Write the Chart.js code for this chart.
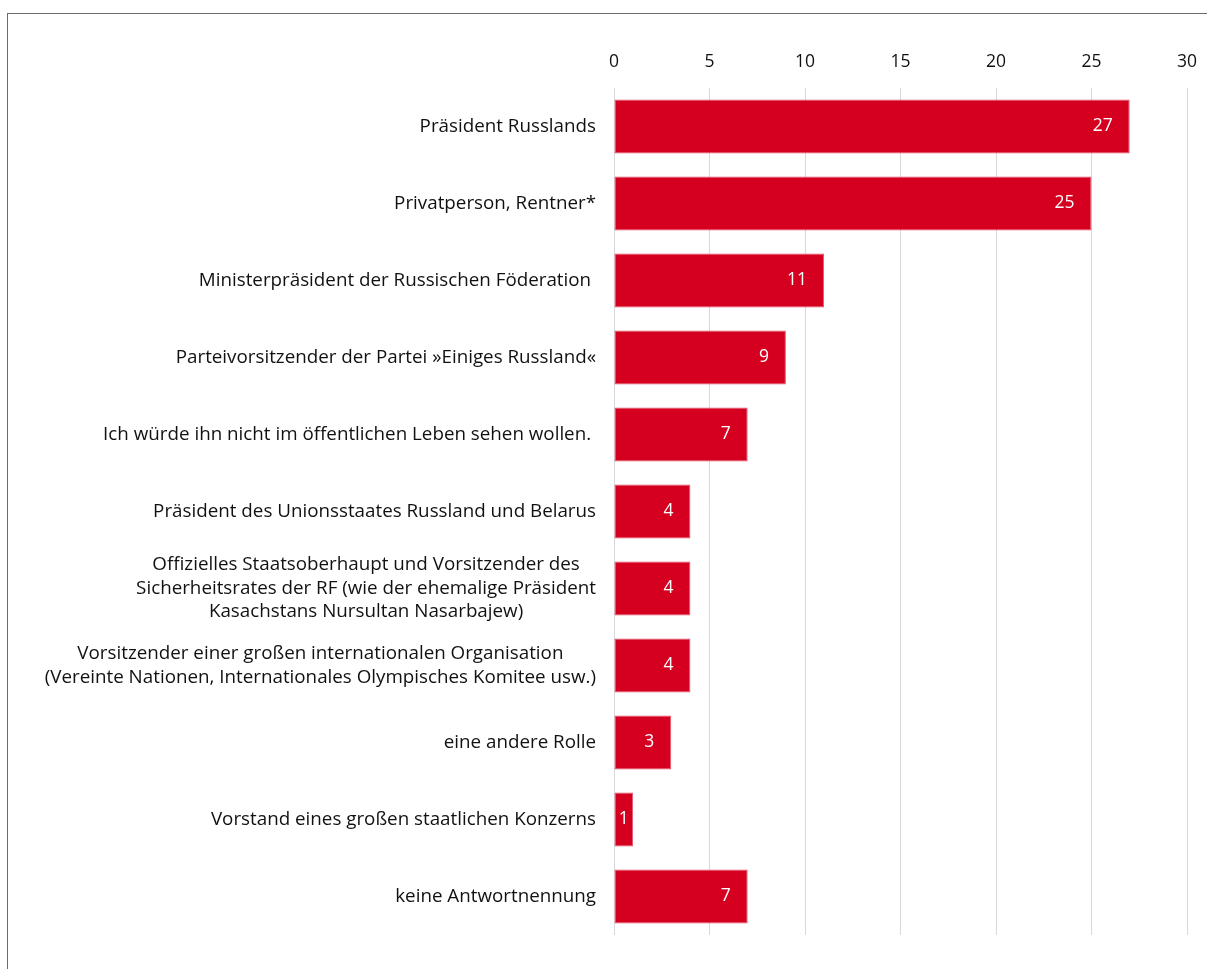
<!DOCTYPE html>
<html>
<head>
<meta charset="utf-8">
<script src="https://cdn.jsdelivr.net/npm/chart.js@4/dist/chart.umd.min.js"></script>
<style>
  html, body { margin: 0; padding: 0; background: #fff; overflow: hidden; }
  #wrap { position: relative; width: 1207px; height: 969px; }
  #frame { position: absolute; left: 7px; top: 13px; width: 1300px; height: 1100px; border: 1px solid #6b6b6b; box-sizing: border-box; }
  canvas { position: absolute; left: 0; top: 0; }
</style>
</head>
<body>
<div id="wrap">
  <div id="frame"></div>
  <canvas id="chart" width="1207" height="969"></canvas>
</div>
<script>
// categories (multi-line ones as arrays)
const categories = [
    'Präsident Russlands',
    'Privatperson, Rentner*',
    'Ministerpräsident der Russischen Föderation ',
    'Parteivorsitzender der Partei »Einiges Russland«',
    'Ich würde ihn nicht im öffentlichen Leben sehen wollen. ',
    'Präsident des Unionsstaates Russland und Belarus',
    ['Offizielles Staatsoberhaupt und Vorsitzender des',
     'Sicherheitsrates der RF (wie der ehemalige Präsident',
     'Kasachstans Nursultan Nasarbajew)'],
    ['Vorsitzender einer großen internationalen Organisation',
     '(Vereinte Nationen, Internationales Olympisches Komitee usw.)'],
    'eine andere Rolle',
    'Vorstand eines großen staatlichen Konzerns',
    'keine Antwortnennung'
];
const values = [27, 25, 11, 9, 7, 4, 4, 4, 3, 1, 7];
const xTicks = [0, 5, 10, 15, 20, 25, 30];

const FONT = '"Open Sans", sans-serif';
const RED = '#d50020';

// draw category labels: block right aligned, lines centred within the block
const categoryLabels = {
    id: 'categoryLabels',
    afterDraw(chart) {
        const ctx = chart.ctx;
        const y = chart.scales.y;
        const right = chart.chartArea.left - 18;
        ctx.save();
        ctx.font = '18.8px ' + FONT;
        ctx.fillStyle = '#111';
        ctx.textAlign = 'center';
        ctx.textBaseline = 'middle';
        categories.forEach((c, i) => {
            const lines = Array.isArray(c) ? c : [c];
            const w = Math.max(...lines.map(l => ctx.measureText(l).width));
            const cx = right - w / 2;
            const lh = 23.5;
            const cy = y.getPixelForTick(i);
            lines.forEach((l, k) => {
                ctx.fillText(l, cx, cy + (k - (lines.length - 1) / 2) * lh);
            });
        });
        ctx.restore();
    }
};

// white value labels inside the bar end
const valueLabels = {
    id: 'valueLabels',
    afterDatasetsDraw(chart) {
        const ctx = chart.ctx;
        const meta = chart.getDatasetMeta(0);
        ctx.save();
        ctx.font = '17.5px ' + FONT;
        ctx.fillStyle = '#fff';
        ctx.textBaseline = 'middle';
        meta.data.forEach((bar, i) => {
            const txt = String(values[i]);
            const w = ctx.measureText(txt).width;
            const barW = bar.x - bar.base;
            if (barW < w + 24) {
                ctx.textAlign = 'center';
                ctx.fillText(txt, bar.base + barW / 2, bar.y);
            } else {
                ctx.textAlign = 'right';
                ctx.fillText(txt, bar.x - 17, bar.y);
            }
        });
        ctx.restore();
    }
};

new Chart(document.getElementById('chart'), {
    type: 'bar',
    data: {
        labels: categories,
        datasets: [{
            data: values,
            backgroundColor: RED,
            borderColor: '#e4566c',
            borderWidth: 1,
            borderSkipped: false,
            categoryPercentage: 0.7,
            barPercentage: 1.0
        }]
    },
    options: {
        indexAxis: 'y',
        responsive: false,
        animation: false,
        layout: { padding: { left: 0, right: 20, top: 0, bottom: 34 } },
        plugins: { legend: { display: false }, tooltip: { enabled: false } },
        scales: {
            x: {
                position: 'top',
                min: 0,
                max: 30,
                afterBuildTicks: s => { s.ticks = xTicks.map(v => ({ value: v })); },
                afterFit: s => { s.height = 88; s.paddingRight = 0; s.paddingLeft = 0; },
                ticks: { font: { family: FONT, size: 17.5 }, color: '#111', padding: 15 },
                grid: { color: '#d9d9d9', drawTicks: false },
                border: { display: false }
            },
            y: {
                afterFit: s => { s.width = 614; },
                ticks: { display: false },
                grid: { display: false },
                border: { display: false }
            }
        }
    },
    plugins: [categoryLabels, valueLabels]
});
</script>
</body>
</html>
